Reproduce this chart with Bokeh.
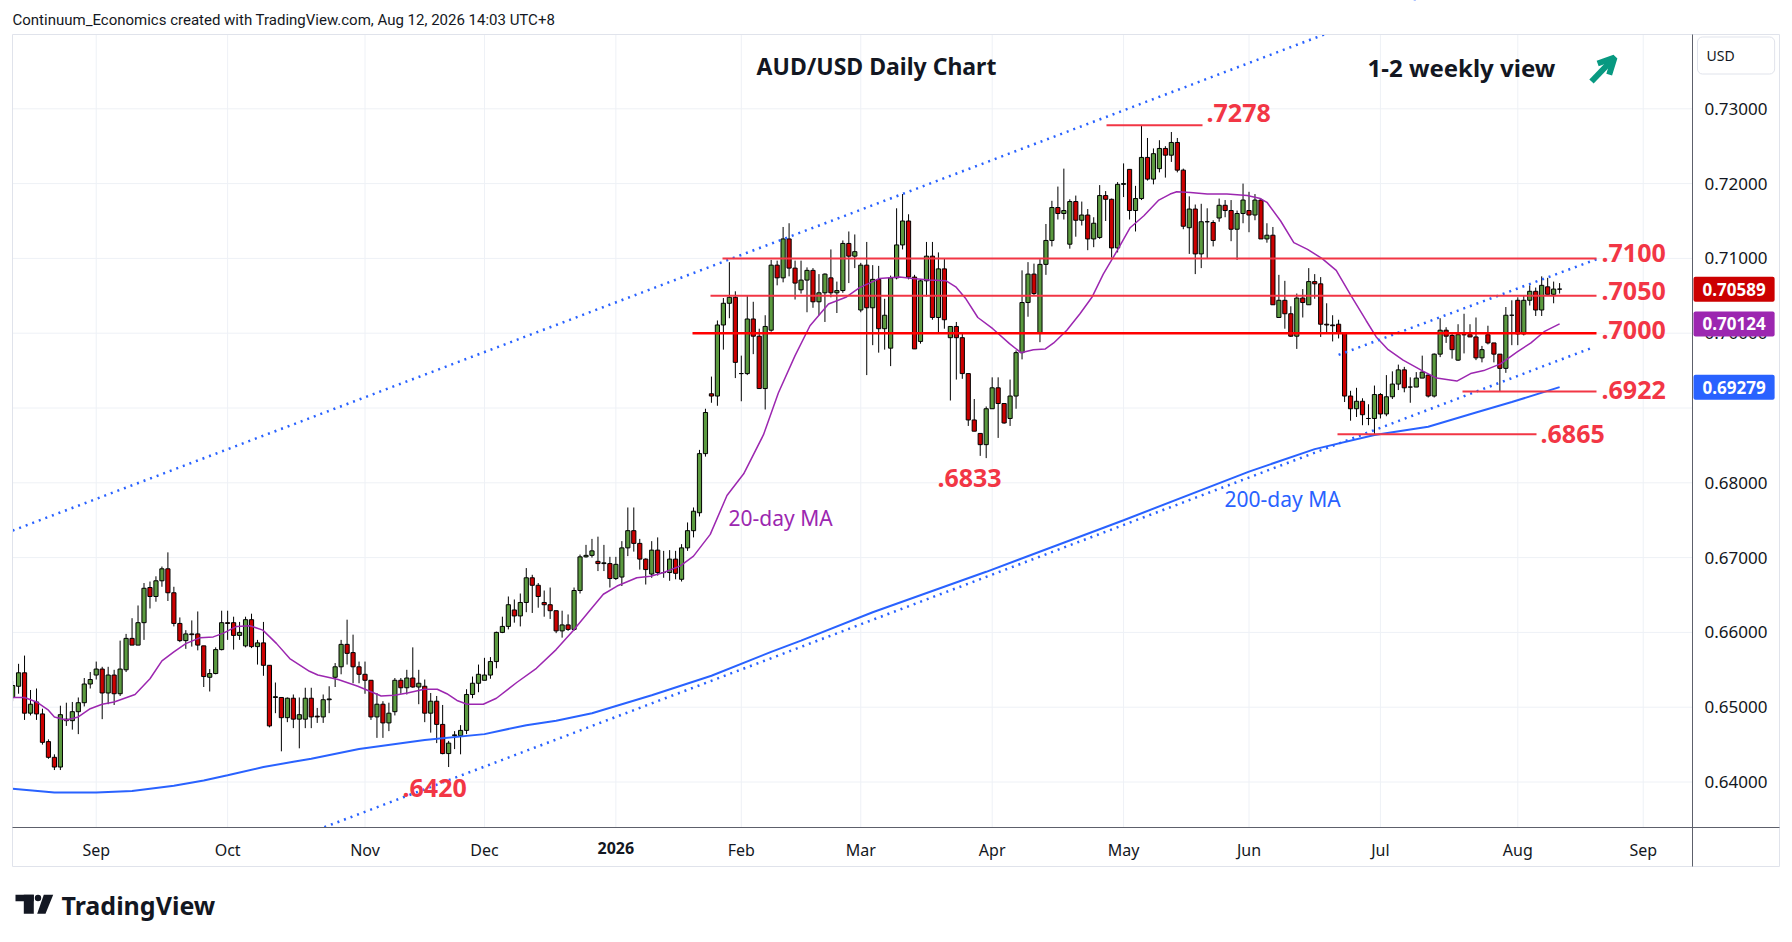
import pandas as pd
from bokeh.plotting import figure
from bokeh.models import (Range1d, FixedTicker, PrintfTickFormatter, Label,
                          Arrow, OpenHead, ColumnDataSource)
from bokeh.embed import file_html
from bokeh.resources import INLINE

# ---------------- data (AUD/USD daily, 12 Aug 2025 .. 12 Aug 2026) ----------------
opens = [
    .6513, .6528, .6546, .6492, .6507, .6491, .6454, .6433, .6420, .6484,
    .6482, .6494, .6506, .6531, .6543, .6551, .6519, .6543, .6518, .6550,
    .6592, .6583, .6613, .6660, .6648, .6669, .6685, .6653, .6612, .6589,
    .6598, .6598, .6582, .6540, .6545, .6577, .6613, .6613, .6596, .6582,
    .6617, .6581, .6586, .6556, .6513, .6513, .6486, .6512, .6484, .6484,
    .6512, .6488, .6487, .6510, .6540, .6554, .6584, .6573, .6554, .6544,
    .6536, .6487, .6504, .6479, .6494, .6536, .6526, .6539, .6527, .6528,
    .6492, .6508, .6477, .6438, .6462, .6462, .6469, .6517, .6532, .6536,
    .6543, .6561, .6600, .6608, .6630, .6622, .6640, .6673, .6663, .6640,
    .6637, .6629, .6602, .6610, .6604, .6656, .6701, .6703, .6695, .6692,
    .6692, .6672, .6674, .6713, .6736, .6719, .6698, .6678, .6710, .6680,
    .6680, .6698, .6671, .6713, .6736, .6760, .6839, .6919, .6916, .7011,
    .7040, .7048, .6946, .6946, .7019, .6996, .6926, .7004, .7091, .7074,
    .7126, .7087, .7058, .7071, .7084, .7042, .7054, .7074, .7054, .7057,
    .7120, .7103, .7031, .7091, .7034, .7072, .7006, .6980, .7074, .7118,
    .7150, .7075, .6989, .7070, .7103, .7021, .7086, .6994, .7009, .6994,
    .6946, .6884, .6866, .6851, .6899, .6927, .6906, .6886, .6916, .6974,
    .7041, .7079, .7000, .7092, .7124, .7168, .7160, .7119, .7176, .7151,
    .7158, .7126, .7128, .7184, .7179, .7114, .7199, .7219, .7164, .7180,
    .7235, .7206, .7220, .7247, .7238, .7255, .7218, .7141, .7166, .7106,
    .7149, .7148, .7154, .7171, .7164, .7139, .7160, .7164, .7158, .7178,
    .7126, .7131, .7021, .7044, .7026, .6996, .7047, .7038, .7069, .7066,
    .7012, .7011, .7012, .7000, .6916, .6899, .6909, .6886, .6886, .6918,
    .6892, .6915, .6932, .6951, .6928, .6928, .6940, .6944, .6916, .6972,
    .7004, .6997, .6964, .6998, .6998, .6995, .6967, .6998, .6987, .6972,
    .6953, .7024, .7044, .6999, .7044, .7056, .7031, .7062, .7052, .7059,
]
highs = [
    .6535, .6558, .6569, .6523, .6525, .6498, .6457, .6437, .6502, .6506,
    .6507, .6513, .6539, .6547, .6561, .6554, .6554, .6550, .6589, .6598,
    .6619, .6636, .6666, .6668, .6675, .6688, .6707, .6661, .6620, .6603,
    .6616, .6628, .6582, .6551, .6580, .6629, .6629, .6621, .6614, .6621,
    .6625, .6590, .6614, .6556, .6533, .6513, .6513, .6517, .6513, .6526,
    .6526, .6499, .6517, .6528, .6559, .6590, .6617, .6597, .6561, .6561,
    .6536, .6519, .6508, .6506, .6539, .6539, .6550, .6580, .6550, .6537,
    .6519, .6515, .6503, .6455, .6468, .6476, .6524, .6541, .6557, .6566,
    .6567, .6601, .6621, .6648, .6644, .6652, .6686, .6677, .6666, .6656,
    .6660, .6629, .6629, .6624, .6660, .6704, .6717, .6725, .6728, .6717,
    .6701, .6701, .6722, .6767, .6767, .6725, .6699, .6722, .6727, .6709,
    .6710, .6709, .6718, .6747, .6767, .6844, .6899, .6942, .7017, .7047,
    .7095, .7056, .6970, .7050, .7042, .7006, .7024, .7098, .7097, .7142,
    .7147, .7097, .7097, .7088, .7087, .7079, .7080, .7112, .7069, .7124,
    .7136, .7132, .7094, .7122, .7091, .7090, .7046, .7077, .7167, .7186,
    .7159, .7078, .7072, .7122, .7122, .7108, .7100, .7009, .7015, .6999,
    .6946, .6912, .6866, .6902, .6941, .6941, .6906, .6938, .6977, .7084,
    .7095, .7093, .7099, .7146, .7177, .7196, .7220, .7179, .7184, .7176,
    .7166, .7155, .7198, .7190, .7180, .7202, .7227, .7219, .7197, .7278,
    .7261, .7247, .7258, .7250, .7269, .7261, .7220, .7183, .7172, .7173,
    .7167, .7151, .7180, .7178, .7178, .7164, .7200, .7189, .7186, .7180,
    .7147, .7142, .7078, .7070, .7036, .7053, .7059, .7087, .7079, .7075,
    .7040, .7024, .7018, .7001, .6923, .6927, .6913, .6905, .6930, .6920,
    .6944, .6949, .6958, .6955, .6941, .6948, .6970, .6945, .6973, .7020,
    .7008, .7000, .7012, .7026, .7012, .7021, .6983, .7010, .6987, .6972,
    .7035, .7044, .7048, .7050, .7064, .7061, .7076, .7074, .7069, .7067,
]
lows = [
    .6508, .6518, .6483, .6489, .6483, .6450, .6431, .6416, .6416, .6475,
    .6470, .6464, .6501, .6525, .6537, .6484, .6504, .6503, .6515, .6547,
    .6583, .6583, .6590, .6632, .6641, .6661, .6642, .6608, .6587, .6578,
    .6581, .6576, .6527, .6521, .6544, .6576, .6590, .6577, .6590, .6580,
    .6579, .6557, .6542, .6473, .6492, .6441, .6480, .6472, .6445, .6472,
    .6472, .6479, .6479, .6492, .6527, .6544, .6557, .6532, .6532, .6518,
    .6483, .6459, .6459, .6468, .6489, .6518, .6517, .6526, .6504, .6480,
    .6466, .6452, .6437, .6420, .6444, .6437, .6464, .6512, .6520, .6536,
    .6538, .6552, .6599, .6604, .6613, .6608, .6627, .6626, .6633, .6621,
    .6618, .6599, .6593, .6602, .6602, .6652, .6700, .6700, .6682, .6682,
    .6660, .6670, .6662, .6702, .6708, .6684, .6664, .6673, .6676, .6673,
    .6669, .6671, .6668, .6709, .6727, .6755, .6835, .6907, .6903, .6978,
    .7020, .6940, .6909, .6944, .6972, .6926, .6898, .7002, .7064, .7068,
    .7076, .7045, .7053, .7028, .7034, .7024, .7015, .7048, .7027, .7054,
    .7067, .7087, .7028, .6944, .6984, .6974, .6978, .6956, .7072, .7112,
    .7072, .6979, .6986, .7049, .7018, .7000, .7006, .6910, .6938, .6939,
    .6876, .6869, .6836, .6833, .6899, .6860, .6879, .6876, .6899, .6965,
    .7022, .7050, .6988, .7078, .7116, .7152, .7152, .7113, .7129, .7144,
    .7111, .7115, .7126, .7150, .7101, .7108, .7182, .7152, .7136, .7178,
    .7204, .7199, .7215, .7208, .7229, .7215, .7139, .7106, .7079, .7087,
    .7100, .7116, .7149, .7155, .7123, .7098, .7147, .7135, .7151, .7126,
    .7121, .7038, .7021, .7006, .6995, .6979, .7021, .7038, .7046, .6995,
    .7000, .6989, .6993, .6908, .6883, .6888, .6877, .6877, .6865, .6886,
    .6889, .6912, .6924, .6921, .6907, .6928, .6940, .6914, .6914, .6968,
    .6987, .6966, .6963, .6973, .6995, .6964, .6961, .6985, .6961, .6922,
    .6947, .6984, .6984, .6997, .7037, .7023, .7023, .7052, .7040, .7053,
]
closes = [
    .6529, .6546, .6492, .6504, .6491, .6453, .6433, .6420, .6490, .6482,
    .6494, .6506, .6531, .6537, .6551, .6519, .6543, .6518, .6551, .6592,
    .6583, .6613, .6659, .6648, .6669, .6685, .6653, .6612, .6589, .6598,
    .6597, .6583, .6541, .6545, .6577, .6613, .6612, .6596, .6600, .6617,
    .6581, .6586, .6556, .6475, .6514, .6486, .6512, .6484, .6490, .6512,
    .6487, .6487, .6510, .6511, .6554, .6584, .6572, .6554, .6544, .6536,
    .6487, .6504, .6479, .6492, .6536, .6526, .6539, .6527, .6532, .6492,
    .6508, .6477, .6438, .6452, .6463, .6469, .6517, .6532, .6544, .6543,
    .6561, .6600, .6608, .6637, .6622, .6640, .6673, .6663, .6648, .6637,
    .6629, .6602, .6610, .6604, .6656, .6701, .6703, .6709, .6692, .6693,
    .6672, .6691, .6713, .6736, .6719, .6698, .6684, .6710, .6680, .6680,
    .6698, .6679, .6713, .6736, .6762, .6839, .6894, .6916, .7011, .7040,
    .7048, .6961, .6946, .7019, .6996, .6926, .7009, .7091, .7074, .7126,
    .7087, .7067, .7071, .7084, .7042, .7054, .7079, .7054, .7057, .7120,
    .7103, .7109, .7091, .7034, .7072, .7006, .7024, .7074, .7118, .7150,
    .7075, .6979, .7070, .7103, .7021, .7086, .7018, .7009, .6994, .6946,
    .6884, .6869, .6851, .6899, .6927, .6906, .6880, .6916, .6974, .7041,
    .7079, .7053, .7092, .7124, .7168, .7160, .7164, .7176, .7151, .7158,
    .7126, .7147, .7184, .7179, .7114, .7199, .7200, .7164, .7180, .7235,
    .7206, .7240, .7247, .7238, .7255, .7218, .7143, .7166, .7106, .7149,
    .7149, .7124, .7171, .7164, .7139, .7160, .7178, .7158, .7178, .7126,
    .7131, .7038, .7044, .7026, .6996, .7047, .7041, .7069, .7066, .7012,
    .7011, .7010, .7000, .6916, .6899, .6909, .6891, .6886, .6918, .6892,
    .6915, .6932, .6951, .6927, .6928, .6940, .6948, .6916, .6972, .7004,
    .6996, .6978, .6998, .6998, .6995, .6967, .6978, .6987, .6972, .6953,
    .7024, .7024, .6999, .7044, .7056, .7031, .7064, .7052, .7059, .70589,
]

# 20-day moving average (bar index, value)
ma20_idx = [0, 2, 4, 6, 7, 9, 11, 13, 15, 17, 20.5, 23, 25, 27, 29, 31.4, 33.6, 35.3,
            37.5, 39.7, 41.9, 44.2, 46.4, 49.7, 51.1, 54.5, 57.8, 61.7, 63.9, 66.1,
            68.9, 71.1, 72.7, 74.4, 76.1, 78.8, 81, 84.4, 87.7, 91, 93.8, 96.7, 98.9,
            101.2, 104.5, 106.8, 109, 111.8, 114, 116.8, 119.6, 122.4, 125.7, 128.2,
            131, 133.5, 136.6, 139.5, 141.8, 145.1, 148.5, 150.7, 153.5, 156.3, 157.9,
            159.6, 161.6, 164.1, 166.9, 168.8, 170.9, 172.9, 174.3, 176.5, 178.7,
            180.7, 182.6, 184.9, 187.1, 189.4, 191.9, 193.8, 194.9, 197.2, 200,
            203.3, 206.7, 208.9, 210, 212.3, 214.5, 216.8, 219.2, 221.6, 224.1,
            226.6, 228.3, 230.3, 232.8, 236.2, 238.4, 241.8, 244.1, 246.3, 249.1,
            251.9, 254.2, 256.4, 259]
ma20_val = [0.6513, 0.6513, 0.6507, 0.6496, 0.6487, 0.6483, 0.6487, 0.6498, 0.6504,
            0.6507, 0.6517, 0.6538, 0.6562, 0.6574, 0.6585, 0.6593, 0.6594, 0.6599,
            0.6608, 0.6609, 0.6603, 0.6585, 0.6565, 0.6548, 0.6543, 0.6537, 0.6528,
            0.6515, 0.6516, 0.6519, 0.6524, 0.6524, 0.6518, 0.6509, 0.6504, 0.6504,
            0.6512, 0.6533, 0.6552, 0.6577, 0.6602, 0.6630, 0.6651, 0.6662, 0.6673,
            0.6675, 0.6680, 0.6689, 0.6702, 0.6731, 0.6783, 0.6812, 0.6864, 0.6920,
            0.6970, 0.7010, 0.7039, 0.7048, 0.7061, 0.7073, 0.7075, 0.7073, 0.7071,
            0.7070, 0.7062, 0.7046, 0.7021, 0.7006, 0.6986, 0.6974, 0.6978, 0.6979,
            0.6987, 0.7004, 0.7026, 0.7048, 0.7079, 0.7110, 0.7141, 0.7157, 0.7178,
            0.7186, 0.7189, 0.7188, 0.7186, 0.7186, 0.7184, 0.7180, 0.7175, 0.7150,
            0.7121, 0.7112, 0.7100, 0.7084, 0.7050, 0.7017, 0.6995, 0.6978, 0.6964,
            0.6949, 0.6940, 0.6936, 0.6946, 0.6950, 0.6959, 0.6975, 0.6987, 0.7002,
            0.70124]

# 200-day moving average
ma200_idx = [0, 7, 14, 20, 27, 32, 36, 42, 47, 50, 58, 69, 79, 86, 91, 97, 107, 117,
             127, 132, 144, 163, 186, 207, 218, 228, 237, 245, 251, 259]
ma200_val = [0.6391, 0.6386, 0.6386, 0.6388, 0.6395, 0.6402, 0.6409, 0.6420, 0.6427,
             0.6431, 0.6444, 0.6456, 0.6464, 0.6476, 0.6482, 0.6492, 0.6516, 0.6542,
             0.6574, 0.6589, 0.6627, 0.6681, 0.6750, 0.6815, 0.6845, 0.6864, 0.6875,
             0.6894, 0.6908, 0.69279]

month_labels = ["Sep", "Oct", "Nov", "Dec", "2026", "Feb", "Mar", "Apr", "May",
                "Jun", "Jul", "Aug", "Sep"]
price_ticks = [0.64, 0.65, 0.66, 0.67, 0.68, 0.69, 0.70, 0.71, 0.72, 0.73]

level_prices = [0.7278, 0.7100, 0.7050, 0.7000, 0.6922, 0.6865]
level_texts = [".7278", ".7100", ".7050", ".7000", ".6922", ".6865"]
low_texts = [".6833", ".6420"]

# trend lines (bar index, price)
upper_channel_x = [0, 281.3]
upper_channel_y = [0.67362, 0.75857]
lower_channel_x = [50, 264.6]
lower_channel_y = [0.63330, 0.6981]
inner_line_x = [222, 265.9]
inner_line_y = [0.6971, 0.7101]

last_close = closes[-1]
last_ma20 = ma20_val[-1]
last_ma200 = ma200_val[-1]

# ---------------- calendar (weekdays, no bars on 25 Dec and 1 Jan) ----------------
days = pd.bdate_range("2025-08-12", "2026-09-30")
days = days[~days.isin(pd.to_datetime(["2025-12-25", "2026-01-01"]))]
month_first = []
prev = None
for k, d in enumerate(days):
    key = (d.year, d.month)
    if key != prev:
        if k > 0:
            month_first.append(k)
        prev = key
month_first = month_first[:len(month_labels)]

# ---------------- page geometry ----------------
W, H = 1784, 934
CL, CT, CR, CB = 12, 34, 1692, 827      # chart pane (page px)
OR_, OB = 1779, 866                      # outer border right / bottom


def X(sx):          # page px -> bar index
    return (sx - 12.1) / 5.973


def Y(sy):          # page px -> price
    return 0.70 + (332.7 - sy) / 7480.0


p = figure(width=W, height=H, output_backend="svg", toolbar_location=None,
           title_location=None, min_border=0,
           x_range=Range1d(X(0), X(W)), y_range=Range1d(Y(H), Y(0)),
           x_axis_location="below", y_axis_location="right",
           background_fill_color="white", border_fill_color="white")
p.outline_line_color = None
p.xgrid.visible = False
p.ygrid.visible = False

# axes, pinned to the chart pane edges
p.xaxis.fixed_location = Y(CB)
p.xaxis.bounds = (X(CL), X(OR_))
p.xaxis.ticker = FixedTicker(ticks=month_first)
overrides = {k: lab for k, lab in zip(month_first, month_labels)}
year_tick = month_first[month_labels.index("2026")]
overrides[year_tick] = ""
p.xaxis.major_label_overrides = overrides
p.xaxis.major_tick_out = 0
p.xaxis.major_tick_in = 0
p.xaxis.minor_tick_out = 0
p.xaxis.minor_tick_in = 0
p.xaxis.axis_line_color = "#5d606b"
p.xaxis.major_label_text_font = "Noto Sans"
p.xaxis.major_label_text_font_size = "16px"
p.xaxis.major_label_text_color = "#131722"
p.xaxis.major_label_standoff = 11

p.yaxis.fixed_location = X(CR)
p.yaxis.bounds = (Y(OB), Y(CT))
p.yaxis.ticker = FixedTicker(ticks=price_ticks)
p.yaxis.formatter = PrintfTickFormatter(format="%.5f")
p.yaxis.major_label_overrides = {0.69: ""}
p.yaxis.major_tick_out = 0
p.yaxis.major_tick_in = 0
p.yaxis.minor_tick_out = 0
p.yaxis.minor_tick_in = 0
p.yaxis.axis_line_color = "#5d606b"
p.yaxis.major_label_text_font = "Noto Sans"
p.yaxis.major_label_text_font_size = "17px"
p.yaxis.major_label_text_color = "#131722"
p.yaxis.major_label_standoff = 12

# grid lines inside the chart pane
grid_col = "#eef1f6"
p.segment(x0=month_first, y0=[Y(CT)] * len(month_first), x1=month_first,
          y1=[Y(CB)] * len(month_first), line_color=grid_col, line_width=1)
p.segment(x0=[X(CL)] * len(price_ticks), y0=price_ticks, x1=[X(CR)] * len(price_ticks),
          y1=price_ticks, line_color=grid_col, line_width=1)

# candles
idx = list(range(len(opens)))
up_col, dn_col = "#5b9a3f", "#cc0000"
src = ColumnDataSource(dict(
    x=idx,
    top=[max(o, c) for o, c in zip(opens, closes)],
    bottom=[min(o, c) for o, c in zip(opens, closes)],
    high=highs, low=lows,
    color=[up_col if c >= o else dn_col for o, c in zip(opens, closes)],
))
p.segment(x0="x", y0="low", x1="x", y1="high", source=src, line_color="#000000", line_width=1)
p.vbar(x="x", width=0.7, top="top", bottom="bottom", fill_color="color",
       line_color="#000000", line_width=1, source=src)

# moving averages
p.line(ma200_idx, ma200_val, line_color="#2962ff", line_width=2)
p.line(ma20_idx, ma20_val, line_color="#9c27b0", line_width=1.5)

# dotted trend lines
for xs, ys in [(upper_channel_x, upper_channel_y), (lower_channel_x, lower_channel_y),
               (inner_line_x, inner_line_y)]:
    p.line(xs, ys, line_color="#2962ff", line_width=2.5, line_dash="2 5")

# horizontal levels
level_x0 = [X(1106), X(722), X(710), X(692), X(1462), X(1337)]
level_x1 = [X(1202), X(1596), X(1596), X(1596), X(1596), X(1536)]
level_colors = ["#f23645", "#f23645", "#f23645", "#ff0000", "#f23645", "#f23645"]
level_widths = [2, 2, 2, 2.5, 2, 2]
for x0, x1, lv, col, lw in zip(level_x0, level_x1, level_prices, level_colors, level_widths):
    p.segment(x0=[x0], y0=[lv], x1=[x1], y1=[lv], line_color=col, line_width=lw)

# white margins outside the chart pane (keep drawings inside the pane)
for l, r, t, b in [(0, W, 0, CT), (0, W, CB, H), (0, CL, 0, H), (CR, W, CT, CB)]:
    p.quad(left=[X(l)], right=[X(r)], top=[Y(t)], bottom=[Y(b)],
           fill_color="white", line_color=None)
# outer light border of the chart
p.quad(left=[X(CL)], right=[X(OR_)], top=[Y(CT)], bottom=[Y(OB)],
       fill_alpha=0, line_color="#e0e3eb", line_width=1)


def add_text(txt, sx, sy, size, color, align="left", bold=False, font="Noto Sans", **kw):
    p.add_layout(Label(x=X(sx), y=Y(sy), text=txt, text_align=align,
                       text_baseline="middle", text_font=font,
                       text_font_size=f"{size}px", text_color=color,
                       text_font_style="bold" if bold else "normal", **kw))


red_txt = "#f23645"
label_pos = [(1206, 112), (1601, 252), (1601, 290), (1601, 329), (1601, 389), (1540, 433)]
for t, (sx, sy) in zip(level_texts, label_pos):
    add_text(t, sx, sy, 25, red_txt, bold=True)
add_text(low_texts[0], 969, 477, 25, red_txt, align="center", bold=True)
add_text(low_texts[1], 402, 787, 25, red_txt, bold=True)

add_text("20-day MA", 728, 517, 21, "#9c27b0")
add_text("200-day MA", 1224, 498, 21, "#2962ff")

# year label on the time axis in bold
p.add_layout(Label(x=year_tick, y=Y(847), text="2026", text_align="center",
                   text_baseline="middle", text_font="Noto Sans", text_font_size="16px",
                   text_font_style="bold", text_color="#131722"))

# titles
add_text("Continuum_Economics created with TradingView.com, Aug 12, 2026 14:03 UTC+8",
         12, 19, 15, "#131722", font="Roboto")
add_text("AUD/USD Daily Chart", 876, 65, 23, "#131722", align="center", bold=True)
add_text("1-2 weekly view", 1367, 67, 24, "#131722", bold=True)
p.add_layout(Arrow(x_start=X(1591), y_start=Y(81), x_end=X(1614), y_end=Y(57),
                   line_color="#089981", line_width=6,
                   end=OpenHead(size=16, line_color="#089981", line_width=6)))

# price-scale tags (box starts at the scale's edge)
for val, col in [(last_close, "#cc0000"), (last_ma20, "#9c27b0"), (last_ma200, "#2962ff")]:
    p.add_layout(Label(x=X(1693), y=val, text=f"{val:.5f}", text_align="left",
                       text_baseline="middle", text_font="Noto Sans", text_font_size="17px",
                       text_font_style="bold", text_color="white",
                       background_fill_color=col,
                       padding=dict(left=9, right=9, top=6, bottom=6), border_radius=2))
add_text("USD", 1697, 55, 14, "#131722", background_fill_color="white",
         border_line_color="#e0e3eb", border_radius=5,
         padding=dict(left=9, right=40, top=9, bottom=9))

# footer: TradingView logo + wordmark
p.quad(left=[X(15)], right=[X(33.3)], top=[Y(894.3)], bottom=[Y(900.7)],
       fill_color="#131722", line_color=None)
p.quad(left=[X(23.3)], right=[X(33.3)], top=[Y(894.3)], bottom=[Y(913.3)],
       fill_color="#131722", line_color=None)
p.ellipse(x=[X(37.5)], y=[Y(897.5)], width=6.4 / 5.973, height=6.4 / 7480.0,
          fill_color="#131722", line_color=None)
p.patch(x=[X(36.7), X(45), X(52.7), X(43.3)], y=[Y(913.3), Y(913.3), Y(894.3), Y(894.3)],
        fill_color="#131722", line_color=None)
add_text("TradingView", 61, 904, 25, "#131722", bold=True)

open("out.html", "w").write(file_html(p, INLINE))
